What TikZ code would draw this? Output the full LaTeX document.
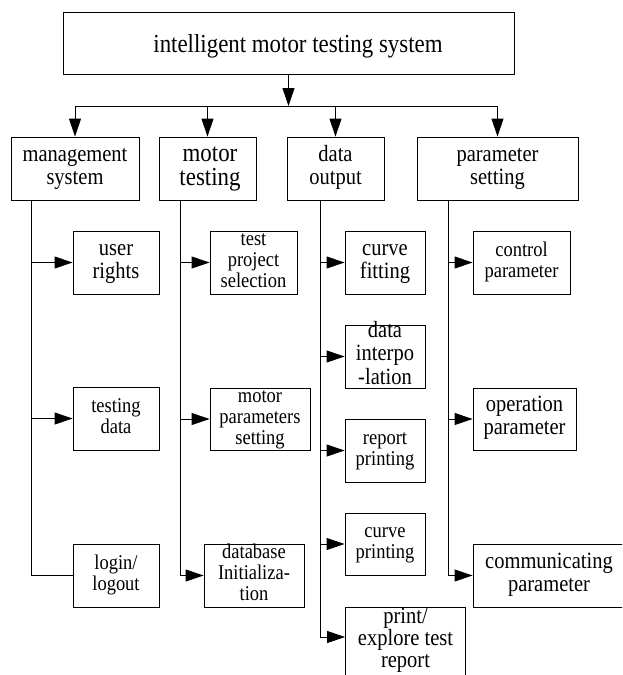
\documentclass[tikz,border=0pt]{standalone}
\usepackage{fontspec}
\setmainfont{Liberation Serif}[FakeStretch=0.88]
\usetikzlibrary{arrows.meta}
\makeatletter
\newcommand{\bxt}[2][0pt]{\raisebox{#1}[0pt][0pt]{\raisebox{-0.25\dimexpr\f@size pt\relax}[0pt][0pt]{\begin{tabular}{@{}c@{}}#2\end{tabular}}}}
\makeatother
\tikzset{
  bx/.style={draw, line width=0.9pt, inner sep=0pt, anchor=center},
  fb/.style={font=\rmfamily\fontsize{26}{24}\selectfont},
  fm/.style={font=\rmfamily\fontsize{23.3}{23.3}\selectfont},
  fs/.style={font=\rmfamily\fontsize{21}{21}\selectfont},
  ln/.style={line width=0.9pt},
  arr/.style={line width=0.9pt, -{Triangle[length=18pt,width=12pt]}}
}
\begin{document}
\begin{tikzpicture}[x=1pt,y=-1pt]
\useasboundingbox (0,0) rectangle (622,675);
\fill[white] (0,0) rectangle (622,675);
\clip (0,0) rectangle (622,675);

% level 0
\node[bx, fb, minimum width=451pt, minimum height=62pt] (top) at (288.5,43) {\hspace*{19pt}\bxt[-4pt]{intelligent motor testing system}};

% level 1
\node[bx, fm, minimum width=128pt, minimum height=63pt] (mgmt) at (75,168.5) {\bxt{management\\system}};
\node[bx, fb, minimum width=97pt, minimum height=63pt] (motor) at (207.5,168.5) {\hspace*{5pt}\bxt{motor\\testing}};
\node[bx, fm, minimum width=97pt, minimum height=63pt] (data) at (335.5,168.5) {\bxt{data\\output}};
\node[bx, fm, minimum width=161pt, minimum height=63pt] (param) at (497.5,168.5) {\bxt{parameter\\setting}};

% management column
\node[bx, fm, minimum width=86pt, minimum height=63pt] (users) at (116,262.5) {\bxt{user\\rights}};
\node[bx, fs, minimum width=86pt, minimum height=63pt] (tdata) at (116,418.5) {\bxt{testing\\data}};
\node[bx, fs, minimum width=86pt, minimum height=63pt] (login) at (116,575.5) {\bxt{login/\\logout}};

% motor testing column
\node[bx, fs, minimum width=87pt, minimum height=63pt] (tps) at (253.5,262.5) {\bxt{test\\project\\selection}};
\node[bx, fs, minimum width=100pt, minimum height=62pt] (mps) at (260,419) {\bxt{motor\\parameters\\setting}};
\node[bx, fs, minimum width=100pt, minimum height=63pt] (dbi) at (254,575.5) {\bxt{database\\Initializa-\\tion}};

% data output column
\node[bx, fm, minimum width=80pt, minimum height=63pt] (cfit) at (385,262.5) {\bxt{curve\\fitting}};
\node[bx, fm, minimum width=80pt, minimum height=63pt] (dint) at (385,356.5) {\bxt{data\\interpo\\-lation}};
\node[bx, fs, minimum width=80pt, minimum height=63pt] (rpr) at (385,450.5) {\bxt{report\\printing}};
\node[bx, fs, minimum width=80pt, minimum height=62pt] (cpr) at (385,544) {\bxt{curve\\printing}};
\node[bx, fm, font=\rmfamily\fontsize{23.3}{21.5}\selectfont, minimum width=120pt, minimum height=74pt] (pet) at (405.5,644) {\bxt[3pt]{print/\\explore test\\report}};

% parameter setting column
\node[bx, fs, minimum width=97pt, minimum height=63pt] (ctrl) at (521.5,262.5) {\bxt{control\\parameter}};
\node[bx, fm, minimum width=103pt, minimum height=62pt] (oper) at (524.5,419) {\bxt{operation\\parameter}};
\node[bx, fm, minimum width=152pt, minimum height=63pt] (comm) at (549,575.5) {\bxt{communicating\\parameter}};

% bus and trunk points
\coordinate (bus) at (0,106);
\coordinate (t1) at (31,200);
\coordinate (t2) at (180,200);
\coordinate (t3) at (320,200);
\coordinate (t4) at (448,200);

% top level connectors
\draw[arr] (top) -- (top |- bus);
\draw[ln] (mgmt |- bus) -- (param |- bus);
\foreach \n in {mgmt,motor,data,param} \draw[arr] (\n |- bus) -- (\n.north);

% management
\draw[ln] (t1) |- (login.west);
\draw[arr] (t1 |- users.west) -- (users.west);
\draw[arr] (t1 |- tdata.west) -- (tdata.west);

% motor testing
\draw[arr] (t2) |- (dbi.west);
\draw[arr] (t2 |- tps.west) -- (tps.west);
\draw[arr] (t2 |- mps.west) -- (mps.west);

% data output
\draw[arr] (t3) |- ([yshift=7pt]pet.west);
\foreach \n in {cfit,dint,rpr,cpr} \draw[arr] (t3 |- \n.west) -- (\n.west);

% parameter setting
\draw[arr] (t4) |- (comm.west);
\draw[arr] (t4 |- ctrl.west) -- (ctrl.west);
\draw[arr] (t4 |- oper.west) -- (oper.west);
\end{tikzpicture}
\end{document}
